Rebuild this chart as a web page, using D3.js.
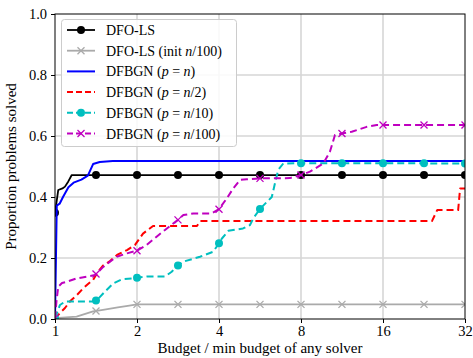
<!DOCTYPE html>
<html><head><meta charset="utf-8">
<script src="https://cdn.jsdelivr.net/npm/d3@7"></script>
<style>body{margin:0;background:#fff}svg{display:block}
.sf{font-family:"Liberation Serif","DejaVu Serif","Times New Roman",serif}</style>
</head><body>
<svg id="c" width="473" height="358"></svg>
<script>
// ---- data ----
const xTicks = [1, 2, 4, 8, 16, 32];
const yTicks = [0, 0.2, 0.4, 0.6, 0.8, 1.0];

const dfolsX = [1, 1.028, 1.065, 1.088, 1.119, 1.152, 32];
const dfolsY = [0.348, 0.423, 0.428, 0.434, 0.451, 0.472, 0.472];

const dfolsInitX = [1, 1.2, 1.38, 1.5, 1.7, 1.85, 2.0, 32];
const dfolsInitY = [0.003, 0.008, 0.025, 0.03, 0.038, 0.043, 0.048, 0.048];

const pnX = [1, 1.015, 1.04, 1.07, 1.12, 1.17, 1.25, 1.32, 1.38, 1.46, 1.63, 32];
const pnY = [0, 0.372, 0.378, 0.40, 0.432, 0.447, 0.457, 0.47, 0.508, 0.515, 0.518, 0.518];

const pn2X = [1, 1.043, 1.088, 1.135, 1.204, 1.267, 1.322, 1.379, 1.426, 1.5, 1.592, 1.689, 1.838, 1.967, 2.104, 2.29, 2.71, 3.32, 3.41, 24.2, 25.3, 30.2, 30.7, 32];
const pn2Y = [0, 0.02, 0.036, 0.058, 0.079, 0.10, 0.115, 0.128, 0.15, 0.175, 0.19, 0.21, 0.226, 0.243, 0.28, 0.305, 0.305, 0.305, 0.321, 0.321, 0.357, 0.357, 0.428, 0.428];

const pn10X = [1, 1.043, 1.088, 1.364, 1.423, 1.526, 1.637, 1.757, 1.912, 2.171, 2.534, 2.682, 2.82, 2.958, 3.406, 3.80, 3.967, 4.10, 4.33, 4.90, 5.198, 5.345, 5.657, 6.25, 6.42, 6.60, 6.89, 8, 32];
const pn10Y = [0.003, 0.046, 0.057, 0.057, 0.061, 0.09, 0.117, 0.13, 0.133, 0.139, 0.139, 0.155, 0.175, 0.188, 0.204, 0.22, 0.243, 0.264, 0.289, 0.297, 0.308, 0.33, 0.361, 0.40, 0.445, 0.489, 0.51, 0.511, 0.51];

const pn100X = [1, 1.013, 1.028, 1.061, 1.104, 1.201, 1.307, 1.402, 1.504, 1.592, 1.685, 1.833, 2, 2.17, 2.36, 2.534, 2.828, 2.96, 3.22, 3.76, 4, 4.27, 4.51, 4.777, 5.06, 5.657, 7.29, 8, 8.63, 9.66, 10.22, 10.66, 11.31, 12.28, 13.94, 15.17, 32];
const pn100Y = [0.003, 0.06, 0.106, 0.118, 0.122, 0.133, 0.139, 0.144, 0.171, 0.188, 0.204, 0.215, 0.224, 0.243, 0.27, 0.292, 0.325, 0.341, 0.346, 0.346, 0.36, 0.395, 0.428, 0.456, 0.458, 0.461, 0.462, 0.472, 0.483, 0.51, 0.549, 0.603, 0.608, 0.614, 0.63, 0.636, 0.636];

const markerX = [1, 1.414, 2, 2.828, 4, 5.657, 8, 11.31, 16, 22.63, 32];

const series = [
  {name: [["DFO-LS", false]], xs: dfolsX, ys: dfolsY, color: "#000000", dash: null, marker: "o", width: 1.8},
  {name: [["DFO-LS (init ", false], ["n", true], ["/100)", false]], xs: dfolsInitX, ys: dfolsInitY, color: "#aaaaaa", dash: null, marker: "x", width: 1.8},
  {name: [["DFBGN (", false], ["p", true], [" = ", false], ["n", true], [")", false]], xs: pnX, ys: pnY, color: "#0000ff", dash: null, marker: null, width: 2},
  {name: [["DFBGN (", false], ["p", true], [" = ", false], ["n", true], ["/2)", false]], xs: pn2X, ys: pn2Y, color: "#ff0000", dash: "7,4", marker: null, width: 2},
  {name: [["DFBGN (", false], ["p", true], [" = ", false], ["n", true], ["/10)", false]], xs: pn10X, ys: pn10Y, color: "#00bfbf", dash: "7,4", marker: "o", width: 2},
  {name: [["DFBGN (", false], ["p", true], [" = ", false], ["n", true], ["/100)", false]], xs: pn100X, ys: pn100Y, color: "#bf00bf", dash: "7,4", marker: "x", width: 2}
];

// ---- layout ----
const L = 55, R = 465, T = 14, B = 319;
const svg = d3.select("#c");
const x = d3.scaleLog().base(2).domain([1, 32]).range([L, R]);
const y = d3.scaleLinear().domain([0, 1]).range([B, T]);

svg.append("defs").append("clipPath").attr("id", "clip")
  .append("rect").attr("x", L).attr("y", T).attr("width", R - L).attr("height", B - T);

// grid
const grid = svg.append("g");
grid.selectAll("line.gx").data(xTicks.slice(1, -1)).join("line")
  .attr("x1", d => x(d)).attr("x2", d => x(d)).attr("y1", T).attr("y2", B)
  .attr("stroke", "#bdbdbd").attr("stroke-width", 1);
grid.selectAll("line.gy").data(yTicks.slice(1, -1)).join("line")
  .attr("x1", L).attr("x2", R).attr("y1", d => y(d)).attr("y2", d => y(d))
  .attr("stroke", "#d6d6d6").attr("stroke-width", 1.3);

// lines
const plot = svg.append("g").attr("clip-path", "url(#clip)");
function interp(xs, ys, v) {
  const lv = Math.log2(v);
  for (let i = 0; i < xs.length - 1; i++) {
    const a = Math.log2(xs[i]), b = Math.log2(xs[i + 1]);
    if (lv >= a && lv <= b) {
      const t = b === a ? 0 : (lv - a) / (b - a);
      return ys[i] + t * (ys[i + 1] - ys[i]);
    }
  }
  return ys[ys.length - 1];
}
function drawMarker(g, type, cx, cy, color, r) {
  if (type === "o") {
    g.append("circle").attr("cx", cx).attr("cy", cy).attr("r", r).attr("fill", color);
  } else if (type === "x") {
    const s = r;
    g.append("path").attr("d", `M${cx - s},${cy - s}L${cx + s},${cy + s}M${cx - s},${cy + s}L${cx + s},${cy - s}`)
      .attr("stroke", color).attr("stroke-width", 1.3).attr("fill", "none");
  }
}
const line = d3.line().x(d => x(d[0])).y(d => y(d[1]));
series.forEach(s => {
  const pts = s.xs.map((v, i) => [v, s.ys[i]]);
  plot.append("path").attr("d", line(pts)).attr("fill", "none")
    .attr("stroke", s.color).attr("stroke-width", s.width)
    .attr("stroke-dasharray", s.dash).attr("stroke-linejoin", "round");
  if (s.marker) {
    const mg = plot.append("g");
    markerX.forEach(mx => drawMarker(mg, s.marker, x(mx), y(interp(s.xs, s.ys, mx)), s.color, s.marker === "o" ? 4 : 3.5));
  }
});

// frame
svg.append("rect").attr("x", L).attr("y", T).attr("width", R - L).attr("height", B - T)
  .attr("fill", "none").attr("stroke", "#000").attr("stroke-width", 1);

// axes
const xAxis = d3.axisBottom(x).tickValues(xTicks).tickFormat(d3.format("d")).tickSize(4).tickPadding(3);
const gx = svg.append("g").attr("transform", `translate(0,${B})`).call(xAxis);
const yAxis = d3.axisLeft(y).tickValues(yTicks).tickFormat(d3.format(".1f")).tickSize(4).tickPadding(4);
const gy = svg.append("g").attr("transform", `translate(${L},0)`).call(yAxis);
[gx, gy].forEach(g => {
  g.attr("font-family", null).attr("font-size", null);
  g.select(".domain").remove();
  g.selectAll("text").attr("class", "sf").attr("font-size", 14.5).attr("fill", "#000");
  g.selectAll("line").attr("stroke", "#000");
});

svg.append("text").attr("class", "sf").attr("x", (L + R) / 2).attr("y", 353).attr("text-anchor", "middle")
  .attr("font-size", 15).text("Budget / min budget of any solver");
svg.append("text").attr("class", "sf").attr("transform", `translate(16,${(T + B) / 2}) rotate(-90)`).attr("text-anchor", "middle")
  .attr("font-size", 15).text("Proportion problems solved");

// legend
const lg = svg.append("g");
lg.append("rect").attr("x", 61.5).attr("y", 19.5).attr("width", 175).attr("height", 127).attr("rx", 3)
  .attr("fill", "#fff").attr("fill-opacity", 0.85).attr("stroke", "#cccccc").attr("stroke-width", 1);
series.forEach((s, i) => {
  const cy = 30 + i * 20.7;
  lg.append("line").attr("x1", 67).attr("x2", 95).attr("y1", cy).attr("y2", cy)
    .attr("stroke", s.color).attr("stroke-width", s.width).attr("stroke-dasharray", s.dash ? "6,3" : null);
  if (s.marker) drawMarker(lg, s.marker, 81, cy, s.color, s.marker === "o" ? 4 : 3.5);
  const t = lg.append("text").attr("class", "sf").attr("x", 106).attr("y", cy + 5).attr("font-size", 14);
  s.name.forEach(([txt, it]) => t.append("tspan").attr("font-style", it ? "italic" : "normal").text(txt));
});
</script>
</body></html>
